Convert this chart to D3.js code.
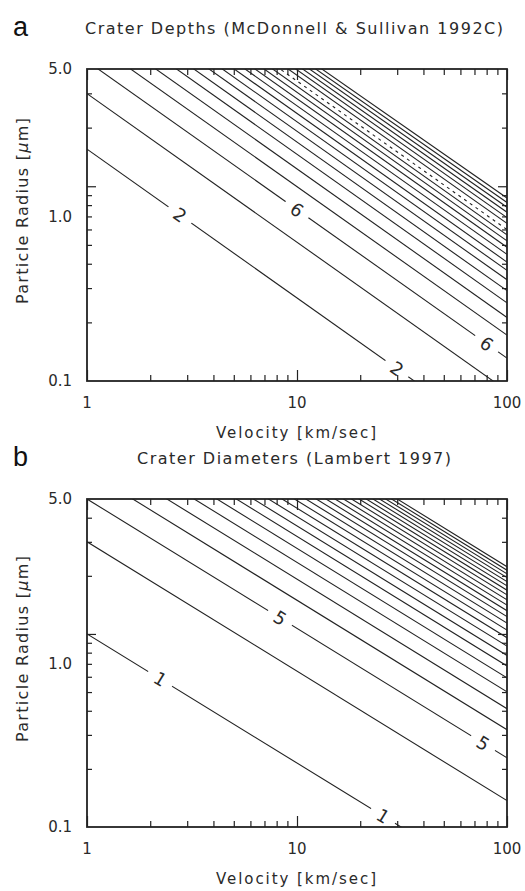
<!DOCTYPE html>
<html>
<head>
<meta charset="utf-8">
<script src="https://cdn.jsdelivr.net/npm/d3@7"></script>
<style>
    body { margin: 0; background: #fff; }
    text { font-family: "DejaVu Sans", sans-serif; fill: #2a2a2a; }
    .panel-tag { font-family: "Liberation Sans", Arial, sans-serif; fill: #111; }
</style>
</head>
<body>
<div id="chart"></div>
<script>

// ---- data ----
var velocityMajor = [1, 10, 100];
var velocityLabels = ["1", "10", "100"];
var velocityMinor = [2, 3, 4, 5, 6, 7, 8, 9, 20, 30, 40, 50, 60, 70, 80, 90];
var radiusMinor = [0.2, 0.3, 0.4, 0.5, 0.6, 0.7, 0.8, 0.9, 2, 3, 4, 5];
var radiusLabels = ["5.0", "1.0", "0.1"];

// panel a : crater depth contours (radius at v = 1 and v = 100 km/s)
var depthTitle = "Crater Depths (McDonnell & Sullivan 1992C)";
var depthLevels = [2, 4, 6, 8, 10, 12, 14, 16, 18, 20, 22, 24, 26, 28, 30, 32, 34, 36, 38, 40, 42];
var depthRadiusAt1 = [1.55, 2.99, 4.39, 5.76, 7.11, 8.46, 9.78, 11.1, 12.4, 13.7, 15.0,
    16.3, 17.6, 18.9, 20.1, 21.4, 22.7, 23.9, 25.2, 26.4, 27.7];
var depthRadiusAt100 = [0.046, 0.089, 0.131, 0.172, 0.212, 0.252, 0.291, 0.331, 0.370, 0.408, 0.447,
    0.486, 0.524, 0.563, 0.599, 0.645, 0.690, 0.735, 0.780, 0.825, 0.870];
var depthDashed = [30];
var depthLabelLevel = [2, 2, 6, 6];
var depthLabelVelocity = [2.77, 29.9, 10, 80];

// panel b : crater diameter contours
var diamTitle = "Crater Diameters (Lambert 1997)";
var diamLevels = [1, 3, 5, 7, 9, 11, 13, 15, 17, 19, 21, 23, 25, 27, 29, 31, 33, 35, 37, 39, 41, 43, 45, 47, 49];
var diamRadiusAt1 = [1, 3, 5, 7, 9, 11, 13, 15, 17, 19, 21, 23, 25, 27, 29, 31, 33, 35, 37, 39, 41, 43, 45, 47, 49];
var diamRadiusAt100 = [0.046, 0.137, 0.228, 0.319, 0.410, 0.501, 0.592, 0.683, 0.774, 0.865, 0.956,
    1.047, 1.138, 1.229, 1.320, 1.411, 1.502, 1.593, 1.684, 1.775, 1.866, 1.957, 2.048, 2.139, 2.230];
var diamDashed = [];
var diamLabelLevel = [1, 1, 5, 5];
var diamLabelVelocity = [2.23, 25.7, 8.3, 76.9];


var svg = d3.select("#chart").append("svg")
    .attr("width", 525)
    .attr("height", 891);

drawPanel({
    id: "a", tag: "a", title: depthTitle,
    top: 69, height: 312, yMax: 4.0,
    levels: depthLevels, r1: depthRadiusAt1, r100: depthRadiusAt100, dashed: depthDashed,
    labelLevel: depthLabelLevel, labelV: depthLabelVelocity
});

drawPanel({
    id: "b", tag: "b", title: diamTitle,
    top: 499, height: 328, yMax: 5.0,
    levels: diamLevels, r1: diamRadiusAt1, r100: diamRadiusAt100, dashed: diamDashed,
    labelLevel: diamLabelLevel, labelV: diamLabelVelocity
});


function drawPanel(opt) {
    var left = 87, width = 420;

    var g = svg.append("g")
        .attr("transform", "translate(" + left + "," + opt.top + ")");

    var x = d3.scaleLog().domain([1, 100]).range([0, width]);
    var y = d3.scaleLog().domain([0.1, opt.yMax]).range([opt.height, 0]);

    // clip + label gaps
    var defs = svg.append("defs");
    defs.append("clipPath").attr("id", "clip-" + opt.id)
        .append("rect").attr("width", width).attr("height", opt.height);

    var mask = defs.append("mask").attr("id", "mask-" + opt.id)
        .attr("maskUnits", "userSpaceOnUse")
        .attr("x", -10).attr("y", -10).attr("width", width + 20).attr("height", opt.height + 20);
    mask.append("rect")
        .attr("x", -10).attr("y", -10).attr("width", width + 20).attr("height", opt.height + 20)
        .attr("fill", "#fff");

    var line = d3.line()
        .x(function(d) { return x(d.v); })
        .y(function(d) { return y(d.r); });

    var labels = opt.labelLevel.map(function(lev, i) {
        var j = opt.levels.indexOf(lev);
        var t = Math.log10(opt.labelV[i]) / 2;
        var lr = Math.log10(opt.r1[j]) + (Math.log10(opt.r100[j]) - Math.log10(opt.r1[j])) * t;
        var angle = Math.atan2(y(opt.r100[j]) - y(opt.r1[j]), x(100) - x(1)) * 180 / Math.PI;
        return { text: String(lev), px: x(opt.labelV[i]), py: y(Math.pow(10, lr)), angle: angle };
    });

    labels.forEach(function(d) {
        mask.append("rect")
            .attr("x", -14).attr("y", -5).attr("width", 28).attr("height", 10)
            .attr("fill", "#000")
            .attr("transform", "translate(" + d.px + "," + d.py + ") rotate(" + d.angle + ")");
    });

    var lines = g.append("g")
        .attr("clip-path", "url(#clip-" + opt.id + ")")
        .append("g")
        .attr("mask", "url(#mask-" + opt.id + ")");

    opt.levels.forEach(function(lev, i) {
        var pts = [{ v: 1, r: opt.r1[i] }, { v: 100, r: opt.r100[i] }];
        lines.append("path")
            .attr("class", "contour")
            .attr("d", line(pts))
            .attr("fill", "none")
            .attr("stroke", "#222")
            .attr("stroke-width", 1.1)
            .attr("stroke-dasharray", opt.dashed.indexOf(lev) >= 0 ? "3,4" : null);
    });

    g.selectAll(".clabel")
        .data(labels)
        .enter().append("text")
        .attr("class", "clabel")
        .attr("text-anchor", "middle")
        .attr("dy", "0.36em")
        .style("font-size", "18px")
        .attr("transform", function(d) {
            return "translate(" + d.px + "," + d.py + ") rotate(" + d.angle + ")";
        })
        .text(function(d) { return d.text; });

    // ticks on all four sides, pointing inward
    var yMinor = radiusMinor.filter(function(v) { return v < opt.yMax; });
    var axes = [
        { gen: d3.axisBottom(x), tr: "translate(0," + opt.height + ")", minor: velocityMinor, major: velocityMajor, ms: 6, Ms: 11 },
        { gen: d3.axisTop(x), tr: "translate(0,0)", minor: velocityMinor, major: velocityMajor, ms: 6, Ms: 11 },
        { gen: d3.axisLeft(y), tr: "translate(0,0)", minor: yMinor, major: [1], ms: 5, Ms: 9 },
        { gen: d3.axisRight(y), tr: "translate(" + width + ",0)", minor: yMinor, major: [1], ms: 5, Ms: 9 }
    ];
    axes.forEach(function(a) {
        [[a.minor, a.ms], [a.major, a.Ms]].forEach(function(set) {
            var ax = g.append("g")
                .attr("class", "axis")
                .attr("transform", a.tr)
                .call(a.gen.tickValues(set[0]).tickSize(-set[1]).tickFormat(""));
            ax.select(".domain").remove();
            ax.selectAll("line").attr("stroke", "#222").attr("stroke-width", 1.2);
        });
    });

    g.append("rect")
        .attr("width", width).attr("height", opt.height)
        .attr("fill", "none")
        .attr("stroke", "#222")
        .attr("stroke-width", 1.8);

    // tick labels
    g.selectAll(".xlabel")
        .data(velocityMajor)
        .enter().append("text")
        .attr("class", "xlabel")
        .attr("x", function(d) { return x(d); })
        .attr("y", opt.height + 27)
        .attr("text-anchor", "middle")
        .style("font-size", "15px")
        .text(function(d, i) { return velocityLabels[i]; });

    var yLabelPos = [y(opt.yMax), y(1) + 30, y(0.1)];
    g.selectAll(".ylabel")
        .data(radiusLabels)
        .enter().append("text")
        .attr("class", "ylabel")
        .attr("x", -15)
        .attr("y", function(d, i) { return yLabelPos[i]; })
        .attr("dy", "0.36em")
        .attr("text-anchor", "end")
        .style("font-size", "15px")
        .text(function(d) { return d; });

    // axis titles
    g.append("text")
        .attr("x", width / 2 - 1)
        .attr("y", opt.height + 57)
        .attr("text-anchor", "middle")
        .style("font-size", "15px")
        .attr("textLength", 160)
        .text("Velocity [km/sec]");

    var yt = g.append("text")
        .attr("transform", "translate(-59," + (opt.height / 2 - 14) + ") rotate(-90)")
        .attr("text-anchor", "middle")
        .attr("textLength", 186)
        .style("font-size", "16px");
    yt.append("tspan").text("Particle Radius [");
    yt.append("tspan").style("font-style", "italic").text("μ");
    yt.append("tspan").text("m]");

    // panel title + tag
    g.append("text")
        .attr("x", width / 2 - 3)
        .attr("y", -35)
        .attr("text-anchor", "middle")
        .style("font-size", "16px")
        .attr("textLength", opt.id === "a" ? 418 : 314)
        .text(opt.title);

    g.append("text")
        .attr("class", "panel-tag")
        .attr("x", -74)
        .attr("y", -33)
        .style("font-size", "27px")
        .text(opt.tag);
}

</script>
</body>
</html>
